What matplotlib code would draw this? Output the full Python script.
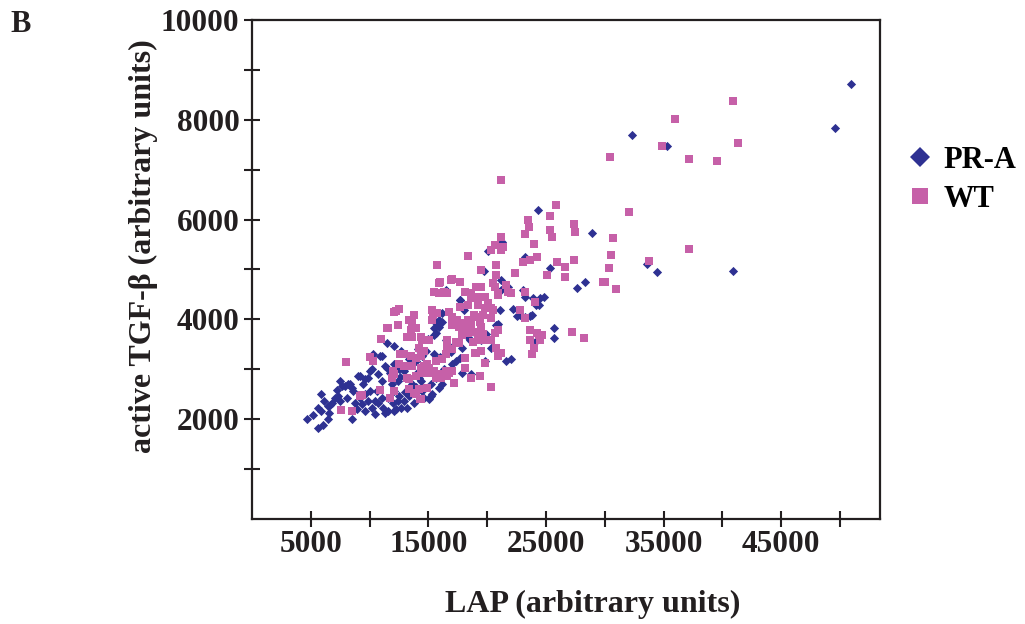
import matplotlib
matplotlib.use("Agg")
import matplotlib.pyplot as plt
from matplotlib.lines import Line2D

plt.rcParams['font.family'] = ['Liberation Serif', 'DejaVu Serif']
plt.rcParams['font.weight'] = 'bold'

# PR-A group (blue diamonds): LAP, active TGF-beta
pra_lap = [4670, 5170, 5590, 6000, 6420, 5840, 6090, 6420, 6840, 7090, 7260, 7680, 8180, 8100,
           8520, 8770, 8520, 9020, 9440, 9600, 9850, 10190, 9850, 10190, 9600, 10610, 10690, 11030,
           11110, 10440, 11030, 11440, 11280, 11700, 11860, 12110, 11530, 11950, 12370, 12280, 12700,
           11280, 13200, 12950, 12370, 13370, 10690, 11030, 9350, 8930, 5590, 6670, 7340, 7930, 8350,
           8600, 9190, 9600, 10020, 10270, 10860, 11440, 11860, 12110, 12530, 12950, 13620, 14210,
           13960, 14460, 14790, 15300, 15630, 16130, 15210, 15880, 15630, 15880, 16130, 16130, 15630,
           16470, 16720, 16970, 17300, 17720, 17720, 17980, 18560, 18640, 18980, 19650, 19810, 20320,
           20740, 21070, 21150, 21150, 21740, 21990, 21570, 22580, 22750, 23250, 23830, 23000, 23250,
           24500, 24840, 24420, 25340, 25670, 25670, 27600, 28270, 20070, 23170, 24330, 28940, 21240,
           19730, 16470, 17640, 15880, 15460, 23920, 24170, 22160, 22500, 23670, 20900, 24170, 50950,
           49550, 32290, 35320, 33550, 34470, 40930, 15460, 18390, 19900, 17810, 17810, 19480, 15300,
           15210, 14370, 14460, 14630, 15040, 12530, 12950, 13370, 13790, 12110, 11530, 10440, 10020,
           9190, 7510, 13790, 14040, 13370, 12700, 12110, 7510, 5840, 6510,
           13000, 13900, 14800, 15500, 16300, 16900, 14100, 15000, 16000, 12600]
pra_tgf = [2000, 2080, 1820, 1880, 2000, 2500, 2360, 2260, 2320, 2420, 2590, 2670, 2710, 2420,
           2630, 2320, 2000, 2870, 2710, 2500, 2830, 3010, 2360, 2220, 2160, 2570, 2320, 2420,
           2220, 2100, 3270, 3520, 3070, 2930, 2710, 2570, 2420, 2320, 2360, 2200, 2220,
           2120, 2220, 2970, 2770, 2630, 2910, 2770, 2300, 2200, 2220, 2280, 2460, 2670, 2710,
           2570, 2870, 2810, 2970, 3310, 3270, 3030, 2910, 3110, 3010, 3010, 2710, 2830,
           3170, 3270, 3370, 2970, 2830, 2710, 2460, 2630, 3720, 3840, 3940, 4120, 3920,
           3580, 3470, 3110, 3170, 3230, 4380, 4180, 3580, 2910, 3720, 3720, 3170, 3430,
           3880, 4180, 4590, 4790, 4650, 3210, 3170, 4180, 4080, 4040, 4080, 4590, 4440,
           4420, 4440, 4280, 5030, 3820, 3620, 4630, 4750, 5370, 5250, 6200, 5740, 5560,
           4970, 4590, 4380, 3980, 3820, 4420, 4280, 4200, 4060, 4060, 3900, 3560, 8710,
           7840, 7700, 7470, 5110, 4950, 4970, 3680, 3640, 3700, 3430, 2930, 3580, 2500,
           2710, 2770, 2570, 2420, 2400, 2460, 2360, 2460, 2320, 2160, 2160, 2360, 2570,
           2420, 2360, 2570, 2930, 3210, 3370, 3470, 2770, 2160, 2120,
           2550, 2650, 3100, 3300, 3000, 3350, 3400, 3600, 3250, 2850]

# WT group (pink squares)
wt_lap = [7590, 8520, 8010, 9350, 10860, 11700, 12110, 13370, 13960, 14290, 17140, 20320,
          10940, 11530, 12370, 12110, 12530, 13370, 13790, 13540, 13960, 13200, 13620, 10020,
          10270, 12620, 12950, 12530, 12950, 12110, 13540, 13960, 14210, 14460, 13620, 14630,
          15040, 15460, 15880, 13960, 13370, 14880, 15630, 16130, 15630, 16130, 16470, 16970,
          16550, 18140, 16550, 17300, 16550, 17560, 18140, 18640, 19400, 18980, 19480, 18810,
          19230, 19810, 20320, 20740, 20900, 21150, 19810, 18140, 18640, 18140, 17560, 16970,
          17390, 16720, 17720, 15710, 15300, 15300, 15460, 16300, 16890, 17720, 15880, 15710,
          16550, 18140, 18640, 19060, 19480, 19230, 19810, 20070, 20320, 19810, 19230, 19060,
          19650, 20320, 20650, 19400, 19480, 18390, 18390, 18810, 19400, 20490, 20650, 21570,
          21740, 21990, 20900, 22330, 23000, 23670, 24250, 20740, 19480, 20740, 18390, 20320,
          21150, 23250, 24080, 25090, 25930, 26590, 26590, 27350, 22750, 23250, 24250, 24500,
          23670, 24000, 23830, 27180, 28190, 14370, 15040, 14630, 14370, 16470, 16970, 19060,
          14370, 14880, 14630, 15300, 16050, 16720, 24670, 14210, 14370, 21150, 25840, 25340,
          23500, 23580, 27350, 27430, 25340, 25510, 21150, 21320, 23170, 24000, 29860, 23670,
          24420, 20650, 15960, 16970, 15880, 18640, 20900, 18390, 20490, 12280, 13620, 15380,
          11440, 16970, 17810, 19650, 20900, 18900, 11860, 11950, 13200, 9190, 13790,
          40930, 35990, 30440, 34890, 41350, 37160, 39510, 32040, 30690, 30530, 30360, 30020,
          30950, 37160, 33720]
wt_tgf = [2180, 2160, 3150, 2480, 2590, 2420, 2570, 2610, 2510, 2400, 2730, 2650,
          3600, 3820, 3880, 4140, 4200, 3980, 4080, 3780, 3820, 3640, 3640, 3250,
          3170, 3310, 3310, 3110, 3070, 2910, 3270, 3230, 3430, 3580, 3070, 3070,
          3030, 2970, 2910, 2870, 2810, 2630, 2830, 2910, 3170, 3210, 2970, 2970,
          2870, 3230, 3580, 3540, 3430, 3520, 3030, 2830, 2870, 3330, 3370, 3540,
          3580, 3580, 3580, 3430, 3270, 3330, 3130, 3920, 3880, 3780, 3840, 4040,
          3980, 4140, 4240, 4120, 4180, 3980, 4550, 4550, 4790, 4750, 4730, 5090,
          4530, 4550, 4530, 4650, 4650, 4440, 4440, 4320, 4220, 4220, 4280, 4040,
          4080, 4020, 3720, 3940, 3840, 3980, 3720, 3740, 3720, 4730, 4650, 4690,
          4550, 4530, 4530, 4930, 5150, 5190, 5250, 5090, 4990, 4890, 5270, 5390,
          5390, 4550, 4340, 4890, 5150, 5050, 4850, 5190, 4180, 4020, 3720, 3580,
          3580, 3430, 3310, 3740, 3620, 3640, 3580, 3370, 3270, 3310, 3410, 3330,
          3030, 3110, 2930, 2930, 2830, 2930, 3680, 2610, 2400, 6790, 6300, 6080,
          6000, 5860, 5920, 5760, 5800, 5660, 5660, 5450, 5720, 5510, 4750, 3780,
          3680, 5490, 4750, 4810, 4530, 4420, 4480, 4280, 4180, 4160, 3940, 4080,
          3820, 3880, 3680, 3700, 3780, 4080, 2830, 2970, 2830, 2460, 2530,
          8380, 8020, 7250, 7470, 7530, 7210, 7170, 6160, 5640, 5290, 5030, 4750,
          4610, 5410, 5170]

x_ticks = [5000, 10000, 15000, 20000, 25000, 30000, 35000, 40000, 45000, 50000]
x_labels = ['5000', '', '15000', '', '25000', '', '35000', '', '45000', '']
y_ticks = [1000, 2000, 3000, 4000, 5000, 6000, 7000, 8000, 9000, 10000]
y_labels = ['', '2000', '', '4000', '', '6000', '', '8000', '', '10000']

blue = '#2E3192'
pink = '#C660A8'
ink = '#231F20'

fig = plt.figure(figsize=(10.25, 6.24), dpi=100)
ax = fig.add_axes([0.2459, 0.1683, 0.6127, 0.7997])

ax.scatter(pra_lap, pra_tgf, marker='D', s=22, color=blue, linewidths=0, zorder=2)
ax.scatter(wt_lap, wt_tgf, marker='s', s=40, color=pink, linewidths=0, zorder=3)

ax.set_xlim(0, 53400)
ax.set_ylim(0, 10000)
ax.set_xticks(x_ticks)
ax.set_xticklabels(x_labels)
ax.set_yticks(y_ticks)
ax.set_yticklabels(y_labels)

for s in ax.spines.values():
    s.set_linewidth(1.6)
    s.set_color(ink)

ax.tick_params(axis='both', direction='inout', length=12, width=1.5, color=ink,
               labelsize=22.5, labelcolor=ink)
ax.tick_params(axis='y', pad=3)
ax.tick_params(axis='x', pad=2)
ax.tick_params(top=False, right=False)

ax.set_xlabel('LAP (arbitrary units)', fontsize=23, fontweight='bold', color=ink)
ax.set_ylabel('active TGF-β (arbitrary units)', fontsize=23, fontweight='bold', color=ink)
ax.xaxis.set_label_coords(0.543, -0.143)
ax.yaxis.set_label_coords(-0.150, 0.547)

handles = [
    Line2D([], [], marker='D', linestyle='none', markersize=10, color=blue, markeredgewidth=0),
    Line2D([], [], marker='s', linestyle='none', markersize=11.5, color=pink, markeredgewidth=0),
]
fig.legend(handles, ['PR-A', 'WT'], loc='upper left', bbox_to_anchor=(905 / 1025, 1 - 146 / 624),
           frameon=False, handlelength=1.0, handletextpad=0.25,
           labelspacing=0.32, borderpad=0, borderaxespad=0,
           prop={'weight': 'bold', 'size': 22})

fig.text(10 / 1025, 1 - 10 / 624, 'B', fontsize=22, fontweight='bold', color=ink,
         ha='left', va='top')

fig.savefig('out.png', dpi=100)
